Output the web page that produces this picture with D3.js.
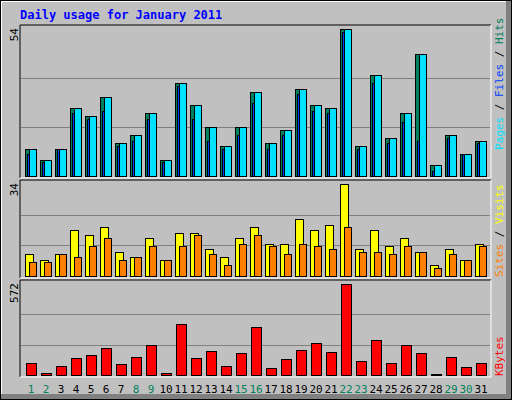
<!DOCTYPE html>
<html lang="en">
<head>
<meta charset="UTF-8">
<script src="https://d3js.org/d3.v7.min.js"></script>
<style>body{margin:0;background:#fff}</style>
</head>
<body>
<svg id="graph" width="512" height="400"></svg>
<script>
const days = d3.range(1, 32);
const weekends = [1, 2, 8, 9, 15, 16, 22, 23, 29, 30];
const hits = [10,6,10,25,22,29,12,15,23,6,34,26,18,11,18,31,12,17,32,26,25,54,11,37,14,23,45,4,15,8,13];
const files = [8,5,10,23,21,24,11,13,21,5,33,21,13,10,15,27,10,15,30,24,23,53,10,34,12,20,13,2,14,8,12];
const pages = [10,6,10,25,22,29,12,15,23,6,34,26,18,11,18,31,12,17,32,26,25,54,11,37,14,23,45,4,15,8,13];
const visits = [8,6,8,17,15,18,9,7,14,6,16,16,10,7,14,18,12,12,21,17,19,34,10,17,11,14,9,4,10,6,12];
const sites = [5,5,8,7,11,14,6,7,11,6,11,15,8,4,12,15,11,8,12,11,10,18,9,9,8,11,9,3,8,6,11];
const kbytes = [77,15,58,109,127,171,71,115,190,15,321,109,152,58,140,303,46,102,159,202,146,572,90,221,77,190,140,5,115,52,77];

const svg = d3.select("#graph");
const font = "'DejaVu Sans Mono', monospace";

// background and frame
svg.append("rect").attr("x", 0).attr("y", 0).attr("width", 512).attr("height", 400).attr("fill", "#000");
svg.append("rect").attr("x", 1).attr("y", 1).attr("width", 510).attr("height", 398).attr("fill", "#808080");
svg.append("rect").attr("x", 1).attr("y", 1).attr("width", 505).attr("height", 393).attr("fill", "#fff");
svg.append("rect").attr("x", 2).attr("y", 2).attr("width", 504).attr("height", 392).attr("fill", "#c0c0c0");

svg.append("text").attr("x", 20).attr("y", 19).text("Daily usage for January 2011")
    .attr("font-family", font).attr("font-weight", "bold").attr("font-size", 12).attr("fill", "#0000ff");

const x = d3.scaleLinear().domain([1, 31]).range([25, 475]);

const panels = [
    { top: 25, bottom: 177, max: 54 },
    { top: 180, bottom: 277, max: 34 },
    { top: 280, bottom: 376, max: 572 }
];

panels.forEach(p => {
    p.y = d3.scaleLinear().domain([0, p.max]).range([p.bottom - 1, p.top + 4]);
    svg.append("rect").attr("x", 20).attr("y", p.top).attr("width", 471).attr("height", p.bottom - p.top + 1)
        .attr("fill", "#c0c0c0");
    svg.append("path").attr("d", `M20,${p.bottom + 1}V${p.top}H491`).attr("stroke", "#000").attr("fill", "none");
    svg.append("path").attr("d", `M20,${p.bottom + 1}H491V${p.top}`).attr("stroke", "#fff").attr("fill", "none");
    [1 / 3, 2 / 3].forEach(f => {
        const gy = Math.round(p.y(p.max * f)) + 0.5;
        svg.append("line").attr("x1", 21).attr("x2", 490).attr("y1", gy).attr("y2", gy).attr("stroke", "#808080");
    });
    svg.append("text").attr("transform", `translate(18,${p.top + 3}) rotate(-90)`).attr("text-anchor", "end")
        .attr("font-family", font).attr("font-size", 11).text(p.max);
});

function bars(panel, values, dx, w, color) {
    svg.append("g").selectAll("rect").data(values).join("rect")
        .attr("x", (d, i) => Math.round(x(days[i])) + dx + 0.5)
        .attr("y", d => Math.round(panel.y(d)) + 0.5)
        .attr("width", w)
        .attr("height", d => Math.max(0, panel.bottom - 1 - Math.round(panel.y(d))))
        .attr("fill", color).attr("stroke", "#000");
}

bars(panels[0], hits, 0, 11, "#00805c");
bars(panels[0], files, 2, 3, "#0040ff");
bars(panels[0], pages, 4, 7, "#00e0ff");
bars(panels[1], visits, 0, 8, "#ffff00");
bars(panels[1], sites, 4, 7, "#ff8000");
bars(panels[2], kbytes, 1, 10, "#ff0000");

// day labels
svg.append("g").selectAll("text").data(days).join("text")
    .attr("x", d => x(d) + 6).attr("y", 393).attr("text-anchor", "middle")
    .attr("font-family", font).attr("font-size", 11)
    .attr("fill", d => weekends.includes(d) ? "#00805c" : "#000").text(d => d);

// right side legends
function legend(yBottom, parts) {
    const t = svg.append("text").attr("transform", `translate(503,${yBottom}) rotate(-90)`)
        .attr("font-family", font).attr("font-size", 11);
    parts.forEach(([s, c]) => t.append("tspan").attr("fill", c).text(s));
}
legend(150, [["Pages", "#00e0ff"], [" / ", "#000"], ["Files", "#0040ff"], [" / ", "#000"], ["Hits", "#00805c"]]);
legend(277, [["Sites", "#ff8000"], [" / ", "#000"], ["Visits", "#ffff00"]]);
legend(376, [["KBytes", "#ff0000"]]);
</script>
</body>
</html>
